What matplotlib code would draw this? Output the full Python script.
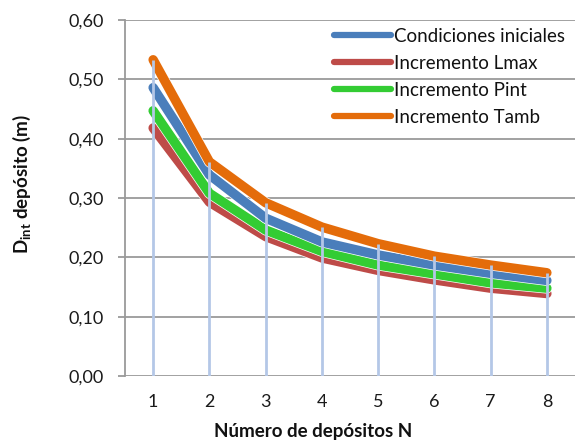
import matplotlib
matplotlib.use("Agg")
import matplotlib.pyplot as plt
import matplotlib.patheffects as pe

plt.rcParams['font.family'] = ['Lato', 'DejaVu Sans']
plt.rcParams['mathtext.fontset'] = 'custom'
plt.rcParams['mathtext.rm'] = 'Lato'
plt.rcParams['mathtext.bf'] = 'Lato:bold'

# Number of tanks and inner diameter for each scenario
n_depositos = [1, 2, 3, 4, 5, 6, 7, 8]
cond_iniciales = [0.486, 0.339, 0.266, 0.226, 0.204, 0.187, 0.173, 0.161]
inc_lmax = [0.418, 0.293, 0.235, 0.199, 0.178, 0.162, 0.148, 0.139]
inc_pint = [0.447, 0.308, 0.246, 0.210, 0.187, 0.172, 0.157, 0.148]
inc_tamb = [0.533, 0.361, 0.292, 0.251, 0.223, 0.202, 0.187, 0.174]

series_names = ["Condiciones iniciales", "Incremento Lmax", "Incremento Pint", "Incremento Tamb"]
series_values = [cond_iniciales, inc_lmax, inc_pint, inc_tamb]
series_colors = ["#4A7EBB", "#BE4B48", "#33CC33", "#E46C0A"]
y_ticks = [0.0, 0.1, 0.2, 0.3, 0.4, 0.5, 0.6]

W, H = 575, 441
fig = plt.figure(figsize=(W / 100, H / 100), dpi=100)
ax = fig.add_axes([125 / W, (H - 376) / H, 450 / W, 356 / H])

ax.set_xlim(0.5, 8.5)
ax.set_ylim(0, 0.6)

grid_c = "#9A9A9A"
for yv in y_ticks:
    ax.axhline(yv, color=grid_c, lw=1.3, zorder=1)

# draw order so that the upper curves sit on top
handles = {}
for idx in [1, 2, 0, 3]:
    (ln,) = ax.plot(n_depositos, series_values[idx], color=series_colors[idx],
                    lw=6.8, solid_capstyle='round', solid_joinstyle='round',
                    zorder=3,
                    path_effects=[pe.Stroke(linewidth=7.8, foreground='white'), pe.Normal()])
    handles[idx] = ln

# drop lines from the highest curve down to the axis
tops = [max(vals) for vals in zip(*series_values)]
ax.vlines(n_depositos, 0, tops, color="#B4C7E7", lw=2.0, zorder=4)

for s in ax.spines.values():
    s.set_visible(False)
ax.spines['left'].set_visible(True)
ax.spines['left'].set_color(grid_c)
ax.spines['left'].set_linewidth(1.3)

ax.set_yticks(y_ticks)
ax.set_yticklabels([f"{v:.2f}".replace('.', ',') for v in y_ticks])
ax.set_xticks(n_depositos)
ax.set_xticklabels([str(n) for n in n_depositos])
ax.tick_params(axis='y', length=5, width=1.3, color=grid_c, pad=10, labelsize=13, labelcolor='#1a1a1a')
ax.tick_params(axis='x', length=0, pad=13, labelsize=13, labelcolor='#1a1a1a')

fig.text(22 / W, 1 - 184 / H, r'$\mathbf{D_{int}}$ depósito (m)', rotation=90,
         ha='center', va='center', fontsize=13.5, fontweight='bold', color='#111111')
fig.text(313 / W, 1 - 431 / H, 'Número de depósitos N', ha='center', va='center',
         fontsize=13.5, fontweight='bold', color='#111111')

leg = ax.legend([handles[i] for i in range(4)], series_names,
                loc='upper left', bbox_to_anchor=(334 / W, 1 - 28 / H),
                bbox_transform=fig.transFigure, frameon=False,
                fontsize=13.5, handlelength=3.05, handletextpad=0.16,
                labelspacing=0.53, borderpad=0, borderaxespad=0)
for t in leg.get_texts():
    t.set_color('#111111')
for lh in leg.get_lines():
    lh.set_linewidth(4.5)
    lh.set_path_effects([])

fig.savefig("out.png", dpi=100)
